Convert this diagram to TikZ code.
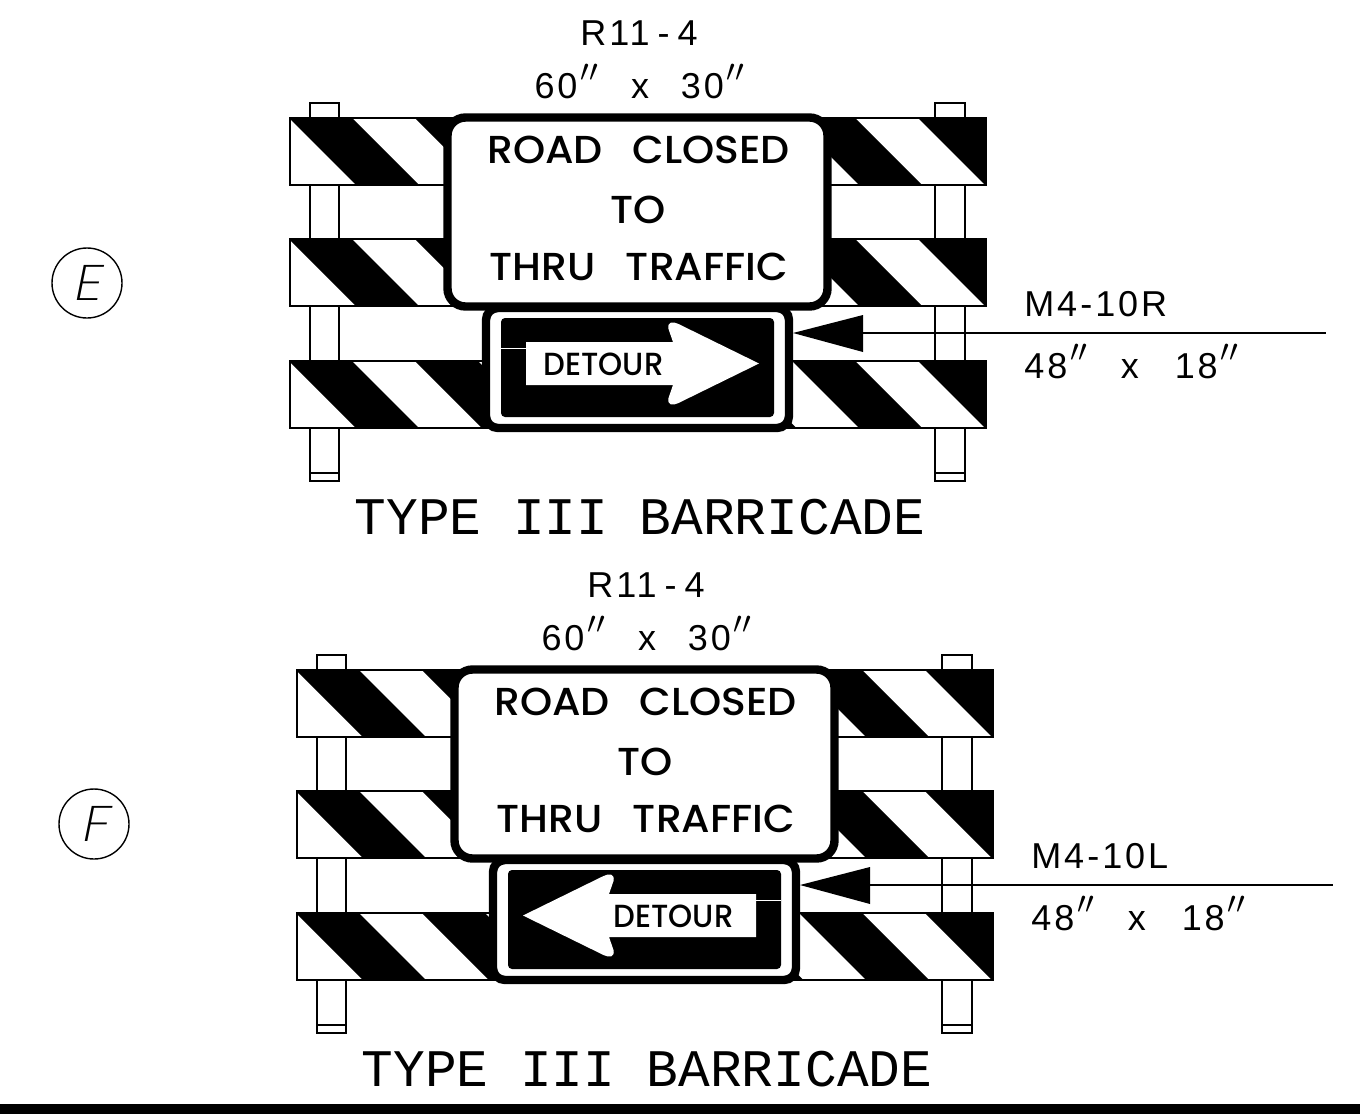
\documentclass[tikz,border=0pt]{standalone}
\usepackage{amsmath}
\usepackage{fontspec}
\usetikzlibrary{positioning}
\newfontfamily\signfont[FakeStretch=1.05]{Poppins Medium}
\newfontfamily\detourfont[FakeStretch=0.96]{Poppins Medium}
\newfontfamily\notefont[LetterSpace=8]{Liberation Sans}
\newfontfamily\titlefont{Liberation Mono}
\newfontfamily\tagfont[FakeSlant=0.2,FakeStretch=1.15]{Poppins ExtraLight}
\newcommand{\inch}{\hspace{1.5pt}\scalebox{1.3}{$''$}}
\tikzset{
  thinline/.style={black,line width=0.7pt},
  boardline/.style={black,line width=1pt},
  signbox/.style={draw=black,fill=white,line width=4.2pt,rounded corners=9pt,inner sep=0pt},
  signtext/.style={inner sep=0pt,font=\signfont\fontsize{19.5}{20}\selectfont},
  notetext/.style={inner sep=0pt,font=\notefont\fontsize{18}{20}\selectfont},
  titletext/.style={inner sep=0pt,font=\titlefont\fontsize{26.4}{28}\selectfont},
  tagcircle/.style={draw=black,circle,line width=0.7pt,minimum size=35pt,inner sep=0pt,font=\tagfont\fontsize{25}{26}\selectfont}
}
% one board, top edge at y=#1
\newcommand{\boardat}[1]{
  \begin{scope}
  \clip (290,#1) rectangle (986,#1+67);
  \fill [white] (290,#1) rectangle (986,#1+67);
  \foreach \k in {0,...,5} {
    \fill [black] (289+125.8*\k,#1) -- (352+125.8*\k,#1) -- (419+125.8*\k,#1+67) -- (356+125.8*\k,#1+67) -- cycle;
  }
  \fill [black] (975,#1) -- (990,#1) -- (990,#1+15) -- cycle;
  \end{scope}
  \draw [boardline] (290,#1) rectangle (986,#1+67);
}
% #1 prefix, #2 arrow direction, #3 x of DETOUR, #4 sign code
\newcommand{\barricadeset}[4]{
  \draw [thinline] (310,103) rectangle (339,481);
  \draw [thinline] (310,473) -- (339,473);
  \draw [thinline] (935,103) rectangle (965,481);
  \draw [thinline] (935,473) -- (965,473);
  \boardat{118}
  \boardat{239}
  \boardat{361}
  % smaller sign first, its top edge goes under the big one
  \node (#1small) [signbox,rounded corners=6pt,minimum width=151.5pt,minimum height=60pt] at (637.5,368) {};
  \fill [black,rounded corners=2pt] (501,318) rectangle (774,417);
  \begin{scope}[shift={(637.5,0)},xscale=#2]
  \fill [white] (35.5,342) -- (31,329) .. controls (29.5,322) and (35,321) .. (41,324) -- (121.5,363.5) -- (41,403) .. controls (35,406) and (29.5,405) .. (31,398) -- (35.5,385) -- (-111.5,385) -- (-111.5,342) -- cycle;
  \draw [white,line width=0.4pt] (-136.5,348) -- (-111.5,348);
  \end{scope}
  \node (#1detour) [inner sep=0pt,font=\detourfont\fontsize{16}{18}\selectfont] at (#3,364) {DETOUR};
  \node (#1big) [signbox,minimum width=190pt,minimum height=94.5pt] at (637.5,212) {};
  \node (#1road) [signtext] at (638.5,150) {ROAD\hspace{15pt}CLOSED};
  \node (#1to) [signtext] at (638,210) {TO};
  \node (#1thru) [signtext] at (639,267) {THRU\hspace{15pt}TRAFFIC};
  \coordinate (#1tip) at (793,333);
  \coordinate (#1base) at (863,333);
  \coordinate (#1end) at (1326,333);
  \fill [black] (#1tip) -- (863,315) -- (863,352) -- cycle;
  \draw [thinline] (#1base) -- (#1end);
  \node (#1code) [notetext] at (639,33) {R11\hspace{4pt}-\hspace{4pt}4};
  \node (#1size) [notetext,anchor=base] at (640,98) {60\inch\hspace{16pt}x\hspace{16pt}30\inch};
  \node (#1mcode) [notetext,anchor=west] at (1024,304) {M4\hspace{1.5pt}-\hspace{1.5pt}#4};
  \node (#1msize) [notetext,anchor=base west] at (1024,378) {48\inch\hspace{16pt}x\hspace{18pt}18\inch};
  \node (#1title) [titletext] at (640,517) {TYPE III BARRICADE};
}

\begin{document}
\begin{tikzpicture}[x=0.5pt,y=-0.5pt]
\useasboundingbox (0,0) rectangle (1360,1114);
\fill [white] (0,0) rectangle (1360,1114);
\barricadeset{e}{1}{603.5}{10R}
\begin{scope}[shift={(7,552)}]
\barricadeset{f}{-1}{666.5}{10L}
\end{scope}
\node (tagE) [tagcircle] at (87,283) {E\hspace{2pt}};
\node (tagF) [tagcircle] at (94,824) {F\hspace{2pt}};
\fill [black] (0,1104) rectangle (1360,1114);
\end{tikzpicture}
\end{document}
